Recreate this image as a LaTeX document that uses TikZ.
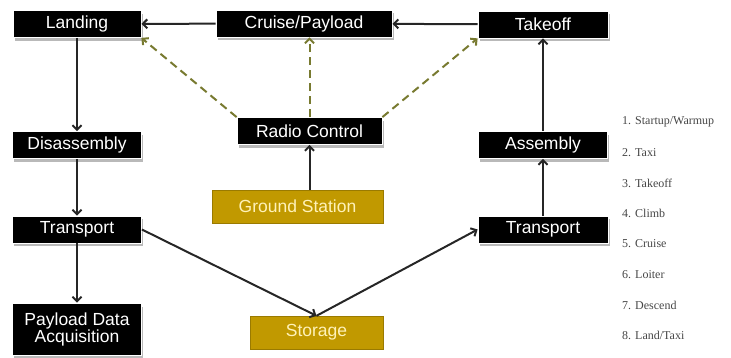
\documentclass[tikz,border=0pt]{standalone}
\usepackage{fontspec}
\usepackage{xcolor}
\usepackage{tikz}
\usetikzlibrary{arrows.meta,shadows}
\setmainfont{Liberation Serif}
\newfontfamily\boxfont{Liberation Sans}

\definecolor{boxgold}{RGB}{193,153,0}
\definecolor{goldtext}{RGB}{255,242,185}
\definecolor{linkolive}{RGB}{120,122,48}
\definecolor{legendgray}{RGB}{70,70,70}

\tikzset{
  blackbox/.style={draw=white, line width=0.8pt, fill=black, text=white, inner sep=0pt,
    minimum height=27pt, font=\boxfont\fontsize{17.5}{19}\selectfont, align=center,
    drop shadow={shadow xshift=1.5pt, shadow yshift=-3.5pt, fill=gray!55, draw=none, opacity=1}},
  goldbox/.style={draw=boxgold!80!black, fill=boxgold, text=goldtext, inner sep=0pt,
    minimum height=33pt, font=\boxfont\fontsize{17.5}{19}\selectfont},
  flow/.style={-{Straight Barb[length=4.5pt,width=9pt]}, line width=2pt, draw=black!85},
  radiolink/.style={-{Straight Barb[length=4.5pt,width=9pt]}, line width=2pt,
    draw=linkolive, dash pattern=on 8pt off 5pt},
  phase/.style={anchor=west, text=legendgray, font=\fontsize{12}{14}\selectfont, inner sep=0pt}
}

\begin{document}
\begin{tikzpicture}[x=1pt,y=-1pt]
\useasboundingbox (0,0) rectangle (731,358);

% flight phases
\node[blackbox, minimum width=128pt] (landing) at (77,24) {Landing};
\node[blackbox, minimum width=176pt] (cruise) at (304,23.5) {Cruise/Payload};
\node[blackbox, minimum width=130pt] (takeoff) at (543,24.5) {Takeoff};

\node[blackbox, minimum width=145pt] (radio) at (309.5,131) {Radio Control};
\node[goldbox, minimum width=171pt] (ground) at (297.5,206.5) {Ground Station};

% left column
\node[blackbox, minimum width=129pt] (disasm) at (77,145) {Disassembly};
\node[blackbox, minimum width=129pt] (transL) at (77,229.5) {Transport};
\node[blackbox, minimum width=129pt, minimum height=52pt] (payload) at (77,329) {Payload Data\\[-2pt]Acquisition};

% right column
\node[blackbox, minimum width=129pt] (asm) at (543,145) {Assembly};
\node[blackbox, minimum width=130pt] (transR) at (543,229.5) {Transport};

\node[goldbox, minimum width=133pt] (storage) at (316.5,332.5) {Storage};

\draw[flow] (takeoff) -- (cruise);
\draw[flow] (cruise) -- (landing);
\draw[flow] (landing) -- (disasm);
\draw[flow] (disasm) -- (transL);
\draw[flow] (transL) -- (payload);
\draw[flow] (transL.east) -- (storage.north);
\draw[flow] (storage.north) -- (transR.west);
\draw[flow] (transR) -- (asm);
\draw[flow] (asm) -- (takeoff);
\draw[flow] (radio.south |- ground.north) -- (radio.south);

\draw[radiolink] (radio.north west) -- (landing.south east);
\draw[radiolink] (radio.north) -- (radio.north |- cruise.south);
\draw[radiolink] (radio.north east) -- (takeoff.south west);

% legend
\foreach \txt [count=\i] in {Startup/Warmup, Taxi, Takeoff, Climb, Cruise, Loiter, Descend, Land/Taxi}
  \node[phase] (phase\i) at (622,{122+30.5*(\i-1)}) {\i. \txt};
\end{tikzpicture}
\end{document}
